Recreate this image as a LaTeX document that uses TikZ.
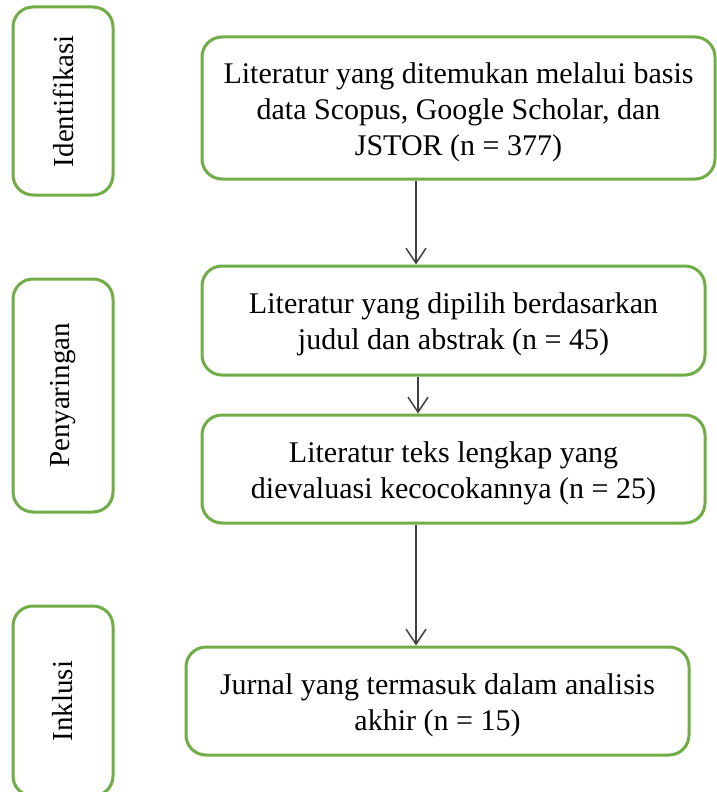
\documentclass[tikz,border=0pt]{standalone}
\usepackage{fontspec}
\setmainfont{Liberation Serif}
\usetikzlibrary{arrows.meta}
\definecolor{boxgreen}{RGB}{112,173,71}
\definecolor{arrowgray}{RGB}{64,64,64}
\tikzset{
  box/.style={draw=boxgreen, line width=3pt, rounded corners=20pt, fill=white, inner sep=0pt},
  boxtext/.style={align=center, font=\fontsize{30}{36}\selectfont, inner sep=0pt},
  sidebox/.style={draw=boxgreen, line width=3pt, rounded corners=20pt, fill=white,
    minimum width=100pt, inner sep=0pt},
  sidelabel/.style={rotate=90, font=\fontsize{29}{36}\selectfont, inner sep=0pt},
  flow/.style={draw=arrowgray, line width=1.5pt, -{Straight Barb[length=15pt, width=20pt, line width=1.5pt]}}
}
\begin{document}
\begin{tikzpicture}[x=1pt, y=-1pt]
\useasboundingbox (0,0) rectangle (716,792);
% side boxes
\node[sidebox, minimum height=188pt] (ident) at (63,101) {};
\node[sidelabel] (identl) at (ident.center) {Identifikasi};
\node[sidebox, minimum height=233pt] (peny) at (63,395.5) {};
\node[sidelabel] (penyl) at (peny.center) {Penyaringan};
\node[sidebox, minimum height=190pt] (inkl) at (63,701) {};
\node[sidelabel] (inkll) at (inkl.center) {Inklusi};
% main boxes
\node[box, minimum width=513pt, minimum height=142pt] (b1) at (458.5,108) {};
\node[boxtext] (t1) at ([yshift=-4pt]b1.center)
  {Literatur yang ditemukan melalui basis\\data Scopus, Google Scholar, dan\\JSTOR (n = 377)};
\node[box, minimum width=503pt, minimum height=109pt] (b2) at (453.5,320.5) {};
\node[boxtext] (t2) at ([yshift=-4pt]b2.center)
  {Literatur yang dipilih berdasarkan\\judul dan abstrak (n = 45)};
\node[box, minimum width=503pt, minimum height=108pt] (b3) at (453.5,469) {};
\node[boxtext] (t3) at ([yshift=-4pt]b3.center)
  {Literatur teks lengkap yang\\dievaluasi kecocokannya (n = 25)};
\node[box, minimum width=503pt, minimum height=108pt] (b4) at (437.5,701) {};
\node[boxtext] (t4) at ([yshift=-4pt]b4.center)
  {Jurnal yang termasuk dalam analisis\\akhir (n = 15)};
% arrows
\coordinate (x1) at (416,0);
\coordinate (x2) at (418,0);
\draw[flow] (x1 |- b1.south) -- (x1 |- b2.north);
\draw[flow] (x2 |- b2.south) -- (x2 |- b3.north);
\draw[flow] (x1 |- b3.south) -- (x1 |- b4.north);
\end{tikzpicture}
\end{document}
